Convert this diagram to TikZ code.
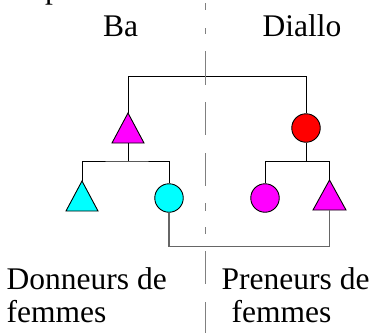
\documentclass[tikz,border=0pt]{standalone}
\usepackage{fontspec}
\newfontfamily\fa{Liberation Serif}
\definecolor{kmag}{RGB}{255,0,255}
\definecolor{kcyan}{RGB}{0,255,255}
\definecolor{kred}{RGB}{255,0,0}
\tikzset{
  lbl/.style={anchor=base west,inner sep=0pt,font=\fa\fontsize{31.5}{31.5}\selectfont},
  tri/.style={draw=black,line width=0.9pt},
  circ/.style={circle,draw=black,line width=0.9pt,minimum size=28.5pt,inner sep=0pt},
  link/.style={draw=black,line width=1pt},
  marr/.style={draw=black!60,line width=1.3pt},
  divider/.style={draw=black!50,line width=1.4pt}}
\begin{document}
\begin{tikzpicture}[x=1pt,y=-1pt]
\useasboundingbox (0,0) rectangle (374,333);
% labels
\node[lbl] (ba) at (103,36) {Ba};
\node[lbl] (diallo) at (262.5,36) {Diallo};
\node[lbl] (don) at (6.5,289) {Donneurs de};
\node[lbl] (donf) at (6.5,322) {femmes};
\node[lbl] (pre) at (221.5,289) {Preneurs de};
\node[lbl] (pref) at (231.5,322) {femmes};
% individuals
\coordinate (tA) at (128,113);
\coordinate (tAb) at (128,143);
\draw[tri,fill=kmag] (tA) -- (112,143) -- (144,143) -- cycle;
\node[circ,fill=kred] (redC) at (306,128) {};
\coordinate (tC) at (82,181);
\draw[tri,fill=kcyan] (tC) -- (66,211) -- (98,211) -- cycle;
\node[circ,fill=kcyan] (cyC) at (169,198) {};
\node[circ,fill=kmag] (maC) at (265,198) {};
\coordinate (tM) at (329.5,180);
\coordinate (tMb) at (329.5,210);
\draw[tri,fill=kmag] (tM) -- (313,210) -- (346,210) -- cycle;
% connectors
\draw[link] (tA) -- ++(0,-37) -| (redC.north);
\draw[link] (tAb) -- ++(0,18) coordinate (m1);
\draw[link] (tC) |- (m1) -| (cyC.north);
\draw[link] (redC.south) -- ++(0,18.5) coordinate (m2);
\draw[link] (maC.north) |- (m2) -| (tM);
\draw[marr] (cyC.south) -- ++(0,34) -| (tMb);
\foreach \a/\b in {3/10,28/34,51/85,102/135,153/186,203/211,227/234,251/284,302/333}
  \draw[divider] (205.5,\a) -- (205.5,\b);
\begin{scope}
\clip (0,0) rectangle (374,333);
\node[lbl] (ptop) at (45,-2) {p};
\end{scope}
\end{tikzpicture}
\end{document}
